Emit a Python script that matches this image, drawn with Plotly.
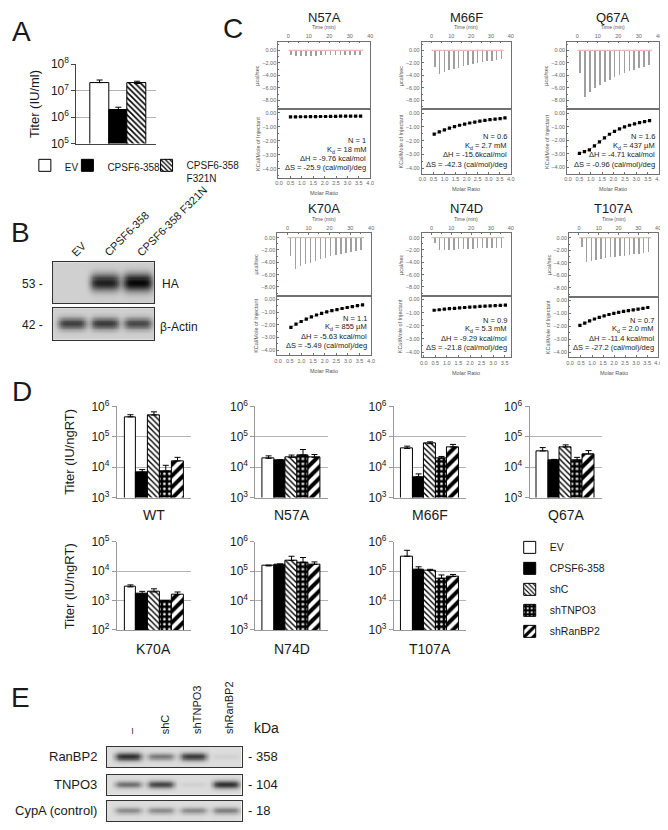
import numpy as np
import plotly.graph_objects as go

W, H = 668, 830
OFF = 8  # the page body adds an 8px margin; positions below are screen pixels
FONT = "Arial, 'Liberation Sans', Helvetica, sans-serif"
INK = "#1a1a1a"

# ======================= DATA =======================
# ---- Panel A : titer (IU/ml)
a_labels = ["EV", "CPSF6-358", "CPSF6-358<br>F321N"]
a_titer = [2.0e7, 1.85e6, 1.85e7]
a_err = [0.5e7, 0.5e6, 0.4e7]

# ---- Panel B : western blot band intensities (0..1)
b_lanes = ["EV", "CPSF6-358", "CPSF6-358 F321N"]
b_ha = [0.0, 0.88, 1.0]
b_actin = [0.72, 0.74, 0.68]
b_rows = ["HA", "β-Actin"]
b_kda = ["53 -", "42 -"]

# ---- Panel C : ITC
itc_names = ["N57A", "M66F", "Q67A", "K70A", "N74D", "T107A"]
itc_inj_time = [1.5, 3.9, 6.3, 8.7, 11.1, 13.5, 15.9, 18.3, 20.7, 23.1, 25.5, 27.9, 30.3, 32.7, 35.1]

raw_N57A = [-0.6, -0.9, -0.85, -0.8, -0.8, -0.8, -0.75, -0.75, -0.7, -0.7, -0.7, -0.65, -0.65, -0.6, -0.6]
raw_M66F = [-2.6, -3.7, -3.4, -3.1, -2.9, -2.7, -2.5, -2.3, -2.1, -2.0, -1.8, -1.7, -1.6, -1.5, -1.3]
raw_Q67A = [-3.6, -7.3, -6.6, -6.0, -5.5, -5.0, -4.6, -4.2, -3.9, -3.6, -3.3, -3.0, -2.8, -2.6, -2.3]
raw_K70A = [-3.0, -5.0, -4.6, -4.3, -4.0, -3.7, -3.4, -3.2, -3.0, -2.8, -2.6, -2.4, -2.3, -2.2, -2.0]
raw_N74D = [-0.8, -2.0, -1.9, -1.9, -1.9, -1.8, -1.8, -1.8, -1.8, -1.7, -1.7, -1.7, -1.7, -1.7, -1.6]
raw_T107A = [-1.5, -3.9, -3.7, -3.5, -3.4, -3.2, -3.1, -3.0, -2.9, -2.8, -2.7, -2.6, -2.5, -2.4, -2.2]

mr_N57A = [0.5, 0.72, 0.94, 1.16, 1.38, 1.6, 1.82, 2.04, 2.26, 2.48, 2.7, 2.92, 3.14, 3.36, 3.58]
heat_N57A = [-0.30, -0.30, -0.29, -0.29, -0.28, -0.28, -0.27, -0.27, -0.26, -0.26, -0.25, -0.25, -0.25, -0.24, -0.24]
mr_M66F = [0.53, 0.76, 0.99, 1.22, 1.45, 1.68, 1.91, 2.14, 2.37, 2.6, 2.83, 3.06, 3.29, 3.52, 3.74]
heat_M66F = [-1.52, -1.36, -1.22, -1.09, -0.98, -0.88, -0.80, -0.72, -0.65, -0.59, -0.53, -0.48, -0.44, -0.40, -0.35]
mr_Q67A = [0.5, 0.72, 0.94, 1.16, 1.38, 1.6, 1.82, 2.04, 2.26, 2.48, 2.7, 2.92, 3.14, 3.36, 3.58]
heat_Q67A = [-2.97, -2.85, -2.72, -2.42, -2.12, -1.82, -1.56, -1.34, -1.16, -1.01, -0.89, -0.79, -0.70, -0.62, -0.55]
mr_K70A = [0.55, 0.77, 0.99, 1.21, 1.43, 1.65, 1.87, 2.09, 2.31, 2.53, 2.75, 2.97, 3.19, 3.41, 3.63]
heat_K70A = [-2.20, -1.95, -1.74, -1.55, -1.38, -1.23, -1.10, -0.99, -0.89, -0.80, -0.72, -0.64, -0.57, -0.50, -0.44]
mr_N74D = [0.45, 0.67, 0.89, 1.11, 1.33, 1.55, 1.77, 1.99, 2.21, 2.43, 2.65, 2.87, 3.09, 3.31, 3.53]
heat_N74D = [-0.82, -0.78, -0.74, -0.70, -0.67, -0.64, -0.61, -0.58, -0.56, -0.53, -0.51, -0.49, -0.47, -0.45, -0.43]
mr_T107A = [0.45, 0.67, 0.89, 1.11, 1.33, 1.55, 1.77, 1.99, 2.21, 2.43, 2.65, 2.87, 3.09, 3.31, 3.53]
heat_T107A = [-1.93, -1.75, -1.58, -1.44, -1.31, -1.19, -1.09, -1.00, -0.92, -0.85, -0.79, -0.73, -0.67, -0.62, -0.55]

stats_N57A = ["N = 1", "K<sub>d</sub> = 18 mM", "ΔH = -9.76 kcal/mol", "ΔS = -25.9 (cal/mol)/deg"]
stats_M66F = ["N = 0.6", "K<sub>d</sub> = 2.7 mM", "ΔH = -15.6kcal/mol", "ΔS = -42.3 (cal/mol)/deg"]
stats_Q67A = ["N = 1.6", "K<sub>d</sub> = 437 µM", "ΔH = -4.71 kcal/mol", "ΔS = -0.96 (cal/mol)/deg"]
stats_K70A = ["N = 1.1", "K<sub>d</sub> = 855 µM", "ΔH = -5.63 kcal/mol", "ΔS = -5.49 (cal/mol)/deg"]
stats_N74D = ["N = 0.9", "K<sub>d</sub> = 5.3 mM", "ΔH = -9.29 kcal/mol", "ΔS = -21.8 (cal/mol)/deg"]
stats_T107A = ["N = 0.7", "K<sub>d</sub> = 2.0 mM", "ΔH = -11.4 kcal/mol", "ΔS = -27.2 (cal/mol)/deg"]

# ---- Panel D : titer (IU/ngRT)
d_conditions = ["EV", "CPSF6-358", "shC", "shTNPO3", "shRanBP2"]
d_mutants = ["WT", "N57A", "M66F", "Q67A", "K70A", "N74D", "T107A"]
titer_WT = [4.5e5, 6.8e3, 5.2e5, 7.5e3, 1.6e4]
err_WT = [0.8e5, 1.5e3, 1.4e5, 4.0e3, 0.5e4]
titer_N57A = [1.95e4, 1.65e4, 2.1e4, 2.5e4, 2.1e4]
err_N57A = [0.4e4, 0.1e4, 0.4e4, 1.3e4, 0.5e4]
titer_M66F = [4.1e4, 4.8e3, 5.9e4, 1.95e4, 4.6e4]
err_M66F = [0.8e4, 1.2e3, 0.9e4, 0.3e4, 1.0e4]
titer_Q67A = [3.4e4, 1.7e4, 4.6e4, 1.7e4, 2.7e4]
err_Q67A = [1.0e4, 0.1e4, 0.8e4, 0.4e4, 0.8e4]
titer_K70A = [2.9e3, 1.7e3, 1.95e3, 1.0e3, 1.6e3]
err_K70A = [0.5e3, 0.35e3, 0.55e3, 0.0, 0.35e3]
titer_N74D = [1.5e5, 1.7e5, 2.3e5, 2.0e5, 1.7e5]
err_N74D = [0.1e5, 0.05e5, 0.9e5, 0.9e5, 0.35e5]
titer_T107A = [3.2e5, 1.15e5, 1.05e5, 5.7e4, 6.5e4]
err_T107A = [1.9e5, 0.25e5, 0.1e5, 1.7e4, 1.2e4]

# ---- Panel E : western blot band intensities (0..1)
e_lanes = ["–", "shC", "shTNPO3", "shRanBP2"]
e_rows = ["RanBP2", "TNPO3", "CypA (control)"]
e_kda = ["- 358", "- 104", "- 18"]
e_ranbp2 = [0.85, 0.5, 0.8, 0.06]
e_tnpo3 = [0.55, 0.75, 0.06, 0.85]
e_cypa = [0.42, 0.42, 0.42, 0.48]

# ======================= HELPERS =======================
fig = go.Figure()
layout_axes = {}
annotations = []
_count = [0]


def px_x(x):
    return (x - OFF) / W


def px_y(y):
    return 1 - (y - OFF) / H


def new_axes(x0, x1, y0, y1, xa=None, ya=None):
    _count[0] += 1
    n = _count[0]
    s = "" if n == 1 else str(n)
    xa = dict(xa or {})
    ya = dict(ya or {})
    xa.update(domain=[px_x(x0), px_x(x1)], anchor="y" + s)
    ya.update(domain=[px_y(y1), px_y(y0)], anchor="x" + s)
    layout_axes["xaxis" + s] = xa
    layout_axes["yaxis" + s] = ya
    return "x" + s, "y" + s


def text(x, y, s, size=12, xanchor="center", yanchor="middle", angle=0, color=INK):
    annotations.append(dict(x=px_x(x), y=px_y(y), xref="paper", yref="paper", text=s,
                            showarrow=False, font=dict(size=size, color=color, family=FONT),
                            xanchor=xanchor, yanchor=yanchor, textangle=angle))


def cond_marker(c):
    base = dict(line=dict(color="black", width=1))
    if c == "EV":
        base.update(color="white")
    elif c == "CPSF6-358":
        base.update(color="black")
    elif c == "shC":
        base.update(color="white", pattern=dict(shape="\\", fgcolor="black", bgcolor="white",
                                                size=4, solidity=0.35, fillmode="replace"))
    elif c == "shTNPO3":
        base.update(color="black", pattern=dict(shape=".", fgcolor="white", bgcolor="black",
                                                size=5, solidity=0.22, fillmode="replace"))
    elif c == "shRanBP2":
        base.update(color="white", pattern=dict(shape="/", fgcolor="black", bgcolor="white",
                                                size=8, solidity=0.5, fillmode="replace"))
    return base


def log_yaxis(lo, hi, tickfont=12, linecolor="#888"):
    vals = [10 ** k for k in range(lo, hi + 1)]
    txt = ["10<sup>%d</sup>" % k for k in range(lo, hi + 1)]
    return dict(type="log", range=[lo, hi], tickvals=vals, ticktext=txt,
                tickfont=dict(size=tickfont, color=INK, family=FONT),
                showline=True, linecolor=linecolor, linewidth=1,
                showgrid=True, gridcolor="#b3b3b3", gridwidth=1,
                ticks="outside", ticklen=4, tickcolor=linecolor, zeroline=False)


def blot(x0, x1, y0, y1, lane_px, intensities, colorscale, halfw, bg=0.0):
    spacing = (lane_px[-1] - lane_px[0]) / (len(lane_px) - 1)
    rx0 = (x0 - lane_px[0]) / spacing
    rx1 = (x1 - lane_px[0]) / spacing
    xs = np.linspace(rx0, rx1, 160)
    ys = np.linspace(0, 1, 40)
    X, Y = np.meshgrid(xs, ys)
    Z = np.full(X.shape, bg)
    for i, a in enumerate(intensities):
        c = (lane_px[i] - lane_px[0]) / spacing
        hh = 0.13 + 0.09 * a
        Z = Z + a * np.exp(-np.abs((X - c) / halfw) ** 5) * np.exp(-((Y - 0.5) / hh) ** 2)
    Z = np.clip(Z, 0, 1)
    xa, ya = new_axes(x0, x1, y0, y1,
                      xa=dict(range=[rx0, rx1], showline=True, mirror=True, linecolor="#333",
                              linewidth=1, showticklabels=False, ticks="", showgrid=False,
                              zeroline=False),
                      ya=dict(range=[0, 1], showline=True, mirror=True, linecolor="#333",
                              linewidth=1, showticklabels=False, ticks="", showgrid=False,
                              zeroline=False))
    fig.add_trace(go.Heatmap(x=xs, y=ys, z=Z, zmin=0, zmax=1, colorscale=colorscale,
                             showscale=False, hoverinfo="skip", xaxis=xa, yaxis=ya))


# ======================= PANEL A =======================
text(19, 23, "A", size=28)
xa, ya = new_axes(74, 155, 56, 137,
                  xa=dict(range=[-1.24, 3.03], showline=True, linecolor="#444", linewidth=1,
                          showticklabels=False, ticks="", showgrid=False, zeroline=False),
                  ya=log_yaxis(5, 8, tickfont=12, linecolor="#444"))
a_styles = [dict(color="white", line=dict(color="black", width=1)),
            dict(color="black", line=dict(color="black", width=1)),
            dict(color="white", line=dict(color="black", width=1),
                 pattern=dict(shape="\\", fgcolor="black", bgcolor="white", size=4,
                              solidity=0.4, fillmode="replace"))]
a_legend_ids = ["legend", "legend3", "legend4"]
for i, lab in enumerate(a_labels):
    fig.add_trace(go.Bar(x=[i], y=[a_titer[i]], width=1, marker=a_styles[i], name=lab,
                         error_y=dict(type="data", array=[a_err[i]], arrayminus=[0],
                                      symmetric=False, color="black", thickness=1, width=3),
                         xaxis=xa, yaxis=ya, legend=a_legend_ids[i], showlegend=True))
text(32, 97, "Titer (IU/ml)", size=13, angle=-90)

# ======================= PANEL B =======================
text(18, 228, "B", size=28)
blot_cs_b = [[0, "#d0d0d0"], [0.35, "#8c8c8c"], [1, "#060606"]]
b_lane_px = [70, 103, 136]
blot(50, 153, 258, 300, b_lane_px, b_ha, blot_cs_b, halfw=0.46)
blot(50, 153, 305, 337, b_lane_px, b_actin, blot_cs_b, halfw=0.44)
text(30, 280, b_kda[0], size=12)
text(30, 322, b_kda[1], size=12)
text(159, 280, b_rows[0], size=12, xanchor="left")
text(157, 324, b_rows[1], size=12, xanchor="left")
for i, lab in enumerate(b_lanes):
    text(b_lane_px[i] - 6, 257, lab, size=11, xanchor="left", yanchor="bottom", angle=-45)

# ======================= PANEL C =======================
text(232, 20, "C", size=28)
itc_raw = dict(N57A=raw_N57A, M66F=raw_M66F, Q67A=raw_Q67A, K70A=raw_K70A, N74D=raw_N74D, T107A=raw_T107A)
itc_mr = dict(N57A=mr_N57A, M66F=mr_M66F, Q67A=mr_Q67A, K70A=mr_K70A, N74D=mr_N74D, T107A=mr_T107A)
itc_heat = dict(N57A=heat_N57A, M66F=heat_M66F, Q67A=heat_Q67A, K70A=heat_K70A, N74D=heat_N74D, T107A=heat_T107A)
itc_stats = dict(N57A=stats_N57A, M66F=stats_M66F, Q67A=stats_Q67A, K70A=stats_K70A, N74D=stats_N74D, T107A=stats_T107A)

itc_boxes = {
    "N57A": (278, 371, 33, 102, 172, [-9.4, 1.4], [-4.65, 0.25], [-0.04, 4.0]),
    "M66F": (423, 513, 33, 102, 168, [-9.4, 1.4], [-4.4, 0.28], [-0.04, 4.0]),
    "Q67A": (570, 663, 33, 102, 168, [-9.4, 1.4], [-4.5, 0.3], [-0.04, 4.0]),
    "K70A": (277, 372, 228, 292, 353, [-9.4, 0.8], [-4.4, 0.3], [-0.04, 4.0]),
    "N74D": (423, 513, 228, 292, 355, [-9.4, 0.8], [-4.4, 0.3], [-0.09, 3.76]),
    "T107A": (572, 662, 228, 293, 355, [-9.4, 0.8], [-4.4, 0.3], [-0.04, 4.0]),
}
AX = "#707070"
TF = dict(size=5.5, color="#666", family=FONT)


def itc_ax(**kw):
    d = dict(showline=True, linecolor=AX, linewidth=0.7, mirror=True, ticks="inside",
             ticklen=2, tickwidth=0.6, tickcolor=AX, tickfont=TF, showgrid=False,
             zeroline=False)
    d.update(kw)
    return d


for name in itc_names:
    x0, x1, yt, ym, yb, trange, brange, mrange = itc_boxes[name]
    cx = (x0 + x1) / 2
    xa, ya = new_axes(x0, x1, yt, ym,
                      xa=itc_ax(side="top", range=[-5, 40], tickvals=[0, 10, 20, 30, 40],
                                minor=dict(ticks="inside", ticklen=1.2, dtick=5, tickcolor=AX)),
                      ya=itc_ax(range=trange, dtick=2, tick0=0, tickformat=".2f",
                                minor=dict(ticks="inside", ticklen=1.2, dtick=1, tickcolor=AX)))
    fig.add_trace(go.Scatter(x=[0, itc_inj_time[-1] + 1.5], y=[0, 0], mode="lines",
                             line=dict(color="#d98f8f", width=0.8), hoverinfo="skip",
                             showlegend=False, xaxis=xa, yaxis=ya))
    fig.add_trace(go.Bar(x=itc_inj_time, y=itc_raw[name], width=0.3,
                         marker=dict(color="#a0a0a0", line=dict(width=0)),
                         showlegend=False, xaxis=xa, yaxis=ya))
    xb, yb_ = new_axes(x0, x1, ym, yb,
                       xa=itc_ax(range=mrange, dtick=0.5, tick0=0, tickformat=".1f"),
                       ya=itc_ax(range=brange, dtick=1, tick0=0, tickformat=".2f",
                                 minor=dict(ticks="inside", ticklen=1.2, dtick=0.5, tickcolor=AX)))
    fig.add_trace(go.Scatter(x=itc_mr[name], y=itc_heat[name], mode="lines+markers",
                             line=dict(color="#8a8a8a", width=0.7),
                             marker=dict(symbol="square", size=3.2, color="black"),
                             showlegend=False, xaxis=xb, yaxis=yb_))
    text(cx, yt - 25, name, size=13)
    text(cx, yt - 14.5, "Time (min)", size=5, color="#555")
    text(cx, yb + 15.5, "Molar Ratio", size=5.5, color="#555")
    text(x0 - 21, (yt + ym) / 2, "µcal/sec", size=5.5, angle=-90, color="#555")
    text(x0 - 21, (ym + yb) / 2, "KCal/Mole of Injectant", size=5.5, angle=-90, color="#555")
    stats = itc_stats[name]
    for j in range(len(stats)):
        text(x1 - 2, yb - 38 + j * 9.3, stats[j], size=7.5, xanchor="right")

# ======================= PANEL D =======================
text(19, 390, "D", size=28)
d_titers = dict(WT=titer_WT, N57A=titer_N57A, M66F=titer_M66F, Q67A=titer_Q67A,
                K70A=titer_K70A, N74D=titer_N74D, T107A=titer_T107A)
d_errs = dict(WT=err_WT, N57A=err_N57A, M66F=err_M66F, Q67A=err_Q67A,
              K70A=err_K70A, N74D=err_N74D, T107A=err_T107A)
d_boxes = {
    "WT": (115, 190, 405, 498, (3, 6), 516),
    "N57A": (255, 328, 405, 498, (3, 6), 516),
    "M66F": (395, 468, 405, 498, (3, 6), 516),
    "Q67A": (532, 605, 405, 498, (3, 6), 516),
    "K70A": (115, 190, 543, 633, (2, 5), 652),
    "N74D": (255, 328, 543, 633, (3, 6), 652),
    "T107A": (395, 468, 543, 633, (3, 6), 652),
}
for k, mut in enumerate(d_mutants):
    x0, x1, y0, y1, (lo, hi), ly = d_boxes[mut]
    xa, ya = new_axes(x0, x1, y0, y1,
                      xa=dict(range=[-1.15, 5.15], showline=True, linecolor="#999", linewidth=1,
                              showticklabels=False, ticks="", showgrid=False, zeroline=False),
                      ya=log_yaxis(lo, hi, tickfont=12, linecolor="#999"))
    for i, c in enumerate(d_conditions):
        fig.add_trace(go.Bar(x=[i], y=[d_titers[mut][i]], width=1, marker=cond_marker(c),
                             name=c, legendgroup=c, legend="legend2", showlegend=(k == 0),
                             error_y=dict(type="data", array=[d_errs[mut][i]], arrayminus=[0],
                                          symmetric=False, color="black", thickness=1, width=3),
                             xaxis=xa, yaxis=ya))
    text(x0 + (x1 - x0) * (2.0 + 1.15) / 6.3, ly, mut, size=14)
text(67, 451, "Titer (IU/ngRT)", size=13, angle=-90)
text(67, 588, "Titer (IU/ngRT)", size=13, angle=-90)

# ======================= PANEL E =======================
text(18, 702, "E", size=28)
blot_cs_e = [[0, "#dcdcdc"], [0.35, "#9a9a9a"], [1, "#111111"]]
e_lane_px = [127, 160, 193, 226]
e_rows_y = [(752, 773), (781, 801), (807, 828)]
for (y0, y1), vals in zip(e_rows_y, [e_ranbp2, e_tnpo3, e_cypa]):
    blot(105, 241, y0, y1, e_lane_px, vals, blot_cs_e, halfw=0.42)
for (y0, y1), lab, kd in zip(e_rows_y, e_rows, e_kda):
    text(97, (y0 + y1) / 2, lab, size=13, xanchor="right")
    text(245, (y0 + y1) / 2, kd, size=13, xanchor="left")
text(252, 733, "kDa", size=14, xanchor="left")
for i, lab in enumerate(e_lanes):
    text(e_lane_px[i] + 3, 741, lab, size=11, yanchor="bottom", angle=-90)

# ======================= LAYOUT =======================
leg_common = dict(xanchor="left", yanchor="top", orientation="h", itemwidth=30, valign="top",
                  font=dict(size=10, family=FONT, color=INK), bgcolor="rgba(0,0,0,0)",
                  tracegroupgap=0, itemclick=False, itemdoubleclick=False)
fig.update_layout(
    width=W, height=H, autosize=False,
    margin=dict(l=0, r=0, t=0, b=0),
    paper_bgcolor="white", plot_bgcolor="white",
    barmode="overlay", bargap=0,
    font=dict(family=FONT, color=INK),
    annotations=annotations,
    legend=dict(x=px_x(22), y=px_y(146), **leg_common),
    legend3=dict(x=px_x(65), y=px_y(146), **leg_common),
    legend4=dict(x=px_x(145), y=px_y(146), **leg_common),
    legend2=dict(x=px_x(512), y=px_y(534), xanchor="left", yanchor="top", orientation="v",
                 font=dict(size=10.5, family=FONT, color=INK), itemwidth=30,
                 bgcolor="rgba(0,0,0,0)", tracegroupgap=2),
    **layout_axes,
)
fig.write_html("out.html")
